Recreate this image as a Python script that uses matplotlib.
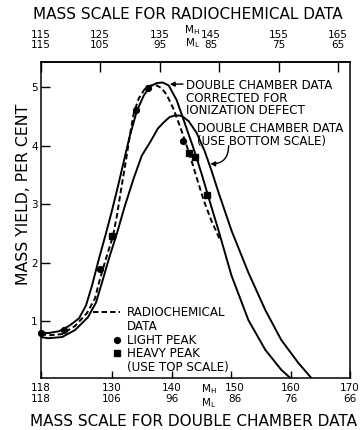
import matplotlib
matplotlib.use("Agg")
import matplotlib.pyplot as plt
import matplotlib.transforms as mtransforms
from matplotlib.lines import Line2D

plt.rcParams['font.family'] = ['DejaVu Sans']

# curves, on the bottom (double chamber) M_H scale
corr_mass = [118.0, 119.42, 121.10, 122.77, 124.45, 125.62, 126.63, 127.80, 128.97, 129.98,
             130.98, 131.99, 132.99, 134.16, 135.34, 136.51, 137.51, 138.52, 139.52, 140.86,
             142.20, 143.71, 145.05, 146.39, 147.90, 150.08, 152.92, 155.77, 158.45, 159.96]
corr_yield = [0.80, 0.80, 0.83, 0.92, 1.05, 1.27, 1.61, 2.07, 2.50, 2.89,
              3.30, 3.74, 4.17, 4.59, 4.86, 5.02, 5.07, 5.08, 5.03, 4.78,
              4.39, 3.95, 3.52, 3.06, 2.55, 1.78, 1.02, 0.51, 0.17, 0.03]

radio_mass = [118.0, 119.42, 121.60, 123.78, 125.79, 127.13, 127.80, 128.97, 130.14, 130.81,
              131.48, 132.32, 132.99, 133.66, 134.50, 135.50, 136.51, 137.51, 138.35, 139.19,
              140.36, 141.70, 143.04, 144.21, 145.39, 146.73, 148.07]
radio_yield = [0.78, 0.76, 0.78, 0.92, 1.14, 1.39, 1.66, 2.07, 2.45, 2.80,
               3.23, 3.74, 4.17, 4.56, 4.81, 4.97, 5.03, 5.03, 4.98, 4.87,
               4.62, 4.25, 3.85, 3.46, 3.07, 2.71, 2.41]

dc_mass = [118.0, 119.26, 121.60, 123.78, 125.96, 127.30, 128.30, 129.47, 130.81, 132.15,
           133.66, 135.00, 136.51, 137.68, 138.69, 139.69, 140.70, 141.70, 142.87, 144.21,
           145.56, 146.73, 147.90, 150.08, 152.92, 155.77, 158.45, 161.30, 163.76]
dc_yield = [0.73, 0.71, 0.73, 0.85, 1.07, 1.32, 1.66, 2.07, 2.50, 2.97,
            3.45, 3.83, 4.08, 4.29, 4.40, 4.49, 4.52, 4.51, 4.42, 4.22,
            3.91, 3.57, 3.20, 2.55, 1.83, 1.19, 0.68, 0.29, 0.0]

# radiochemical points (top scale): light peak as M_L, heavy peak as M_H
light_mass = [115, 111, 105, 99, 97, 91]
light_yield = [0.80, 0.85, 1.89, 4.61, 4.98, 4.08]
heavy_mass = [127, 140, 141, 143]
heavy_yield = [2.45, 3.88, 3.81, 3.15]

top_h = [115, 125, 135, 145, 155, 165]
top_l = [115, 105, 95, 85, 75, 65]
bot_h = [118, 130, 140, 150, 160, 170]
bot_l = [118, 106, 96, 86, 76, 66]
y_ticks = [1, 2, 3, 4, 5]

# top scale M_H sits 3 units below the bottom scale, M_L is mirrored
top_to_bot = lambda m: m + 3
bot_to_top = lambda m: m - 3

fig = plt.figure(figsize=(3.62, 4.30), dpi=100)
ax = fig.add_axes([0.1124, 0.1209, 0.8544, 0.7349])

ax.plot(corr_mass, corr_yield, 'k-', lw=1.4)
ax.plot(dc_mass, dc_yield, 'k-', lw=1.4)
ax.plot(radio_mass, radio_yield, 'k-', lw=1.4, dashes=(2.8, 1.6))

light_x = [top_to_bot(230 - m) for m in light_mass]
heavy_x = [top_to_bot(m) for m in heavy_mass]
ax.plot(light_x, light_yield, 'ko', ms=4.2, clip_on=False)
ax.plot(heavy_x, heavy_yield, 'ks', ms=4.2, clip_on=False)

ax.set_xlim(118, 170)
ax.set_ylim(0.03, 5.43)

ax.set_xticks(bot_h)
ax.set_xticklabels([f"{h}\n{l}" for h, l in zip(bot_h, bot_l)], linespacing=1.15)
ax.set_yticks(y_ticks)
ax.tick_params(axis='x', direction='in', length=5, width=1, labelsize=7.5, pad=3.5)
ax.tick_params(axis='y', direction='in', length=6.5, width=1, labelsize=7.5, pad=2)

top = ax.secondary_xaxis('top', functions=(bot_to_top, top_to_bot))
top.set_xticks(top_h)
top.set_xticklabels([f"{h}\n{l}" for h, l in zip(top_h, top_l)], linespacing=0.95)
top.tick_params(direction='in', length=7, width=1, labelsize=7.5, pad=9)

# labels next to the M_H / M_L marks sit a little off their ticks
top.get_xticklabels()[3].set_transform(top.get_xticklabels()[3].get_transform() +
                                       mtransforms.ScaledTranslation(-8 / 100, 0, fig.dpi_scale_trans))
ax.get_xticklabels()[3].set_transform(ax.get_xticklabels()[3].get_transform() +
                                      mtransforms.ScaledTranslation(4 / 100, 0, fig.dpi_scale_trans))

for sp in ax.spines.values():
    sp.set_linewidth(1.1)
top.spines['top'].set_linewidth(1.1)

xt = ax.get_xaxis_transform()
ax.text(143.5, 1.081, "M$_{\\rm H}$\nM$_{\\rm L}$", transform=xt, fontsize=7.5, ha='center', va='center',
        linespacing=0.95)
ax.text(146.2, -0.057, "M$_{\\rm H}$\nM$_{\\rm L}$", transform=xt, fontsize=7.5, ha='center', va='center',
        linespacing=1.05)

fig.text(0.518, 0.967, "MASS SCALE FOR RADIOCHEMICAL DATA", fontsize=11, ha='center', va='center')
fig.text(0.535, 0.003, "MASS SCALE FOR DOUBLE CHAMBER DATA", fontsize=11, ha='center', va='bottom')
fig.text(0.064, 0.547, "MASS YIELD, PER CENT", fontsize=11.3, rotation=90, ha='center', va='center')

ax.annotate("DOUBLE CHAMBER DATA\nCORRECTED FOR\nIONIZATION DEFECT",
            xy=(139.7, 5.05), xytext=(142.4, 5.14), fontsize=8.6, ha='left', va='top',
            linespacing=0.97,
            arrowprops=dict(arrowstyle='-|>', color='k', lw=1, mutation_scale=7,
                            shrinkA=0, shrinkB=0, relpos=(0, 0.87)))
ax.text(144.2, 4.40, "DOUBLE CHAMBER DATA\n(USE BOTTOM SCALE)", fontsize=8.6, ha='left', va='top',
        linespacing=0.97)
ax.annotate("", xy=(146.5, 3.69), xytext=(149.6, 4.0),
            arrowprops=dict(arrowstyle='-|>', color='k', lw=1, mutation_scale=7,
                            shrinkA=0, shrinkB=0, connectionstyle="arc3,rad=-0.5"))

blank = Line2D([], [], linestyle='none')
leg1 = ax.legend([Line2D([], [], color='k', lw=1.4, dashes=(2.8, 1.6)), blank],
                 ["RADIOCHEMICAL", "DATA"], loc='upper left', bbox_to_anchor=(0.169, 0.228),
                 frameon=False, fontsize=8.6, handlelength=2.25, handletextpad=0.58,
                 borderpad=0, borderaxespad=0, labelspacing=0.08)
ax.add_artist(leg1)
ax.legend([Line2D([], [], color='k', marker='o', ms=4.2, linestyle='none'),
           Line2D([], [], color='k', marker='s', ms=4.2, linestyle='none'), blank],
          ["LIGHT PEAK", "HEAVY PEAK", "(USE TOP SCALE)"], loc='upper left',
          bbox_to_anchor=(0.236, 0.139), frameon=False, fontsize=8.6, handlelength=0.56,
          handletextpad=0.56, borderpad=0, borderaxespad=0, labelspacing=0.02)

fig.savefig("out.png", dpi=100)
